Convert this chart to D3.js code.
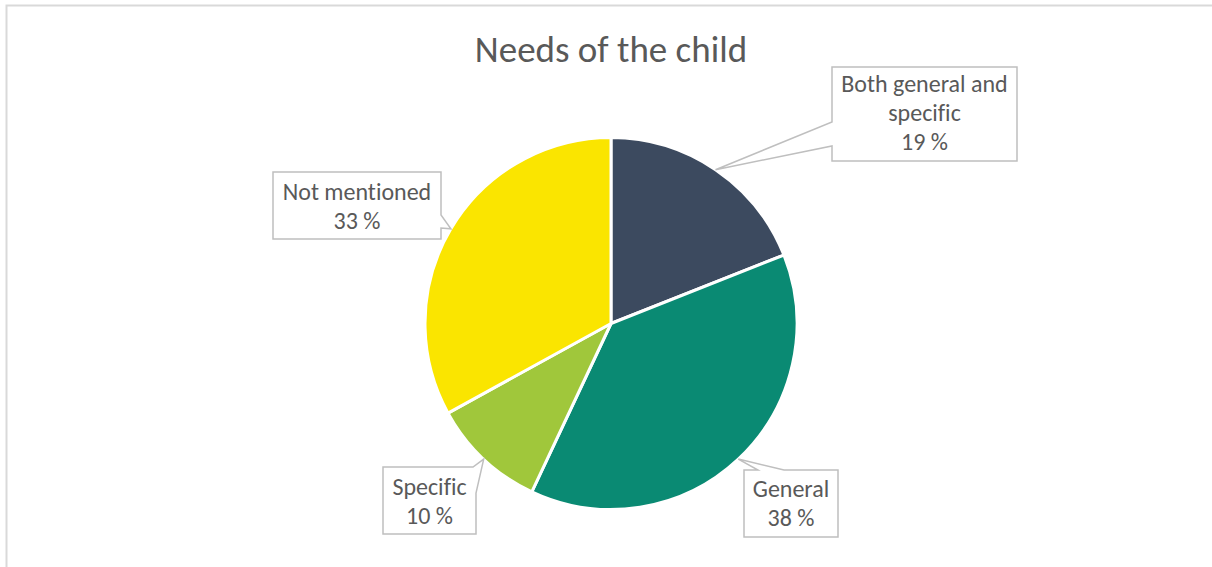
<!DOCTYPE html>
<html>
<head>
<meta charset="utf-8">
<script src="https://cdn.jsdelivr.net/npm/d3@7"></script>
<style>
  html, body { margin: 0; padding: 0; background: #fff; }
  svg { display: block; }
  text { font-family: Carlito, Calibri, Lato, "Open Sans", sans-serif; fill: #595959; font-variant-ligatures: none; }
</style>
</head>
<body>
<svg id="chart" width="1212" height="567"></svg>
<script>
// Share of cases by how the child's needs are described
const title = "Needs of the child";
const categories = ["Both general and specific", "General", "Specific", "Not mentioned"];
const values = [19, 38, 10, 33];
const labelLines = [["Both general and", "specific"], ["General"], ["Specific"], ["Not mentioned"]];
const colors = ["#3c4a5f", "#0a8a73", "#a0c73b", "#fae500"];

// Callout boxes: rectangle plus the wedge base, measured as distance along the
// perimeter clockwise from the top-left corner.
const callouts = [
  { x: 832, y: 67,  w: 185, h: 94, sA: 479, sB: 503 },
  { x: 744, y: 470, w: 94,  h: 67, sA: 14,  sB: 40 },
  { x: 383, y: 467, w: 93,  h: 67, sA: 90,  sB: 119 },
  { x: 273, y: 172, w: 168, h: 67, sA: 211, sB: 224 }
];
const baselines = [[92, 121, 150], [497, 526], [495, 524], [200, 229]];

const svg = d3.select("#chart");
const W = 1212, H = 567;
const cx = 611, cy = 323.5, r = 186;

// frame
svg.append("path")
  .attr("d", `M6.5,${H} V5.5 H${W}`)
  .attr("fill", "none").attr("stroke", "#d9d9d9").attr("stroke-width", 2);

svg.append("text")
  .attr("x", cx).attr("y", 62)
  .attr("text-anchor", "middle")
  .style("font-size", "37px")
  .text(title);

const pie = d3.pie().sort(null).value(d => d)(values);
const arc = d3.arc().innerRadius(0).outerRadius(r);
const rimArc = d3.arc().innerRadius(r).outerRadius(r);

const g = svg.append("g").attr("transform", `translate(${cx},${cy})`);
g.selectAll("path.slice").data(pie).join("path")
  .attr("class", "slice")
  .attr("d", arc)
  .attr("fill", (d, i) => colors[i])
  .attr("stroke", "#fff")
  .attr("stroke-width", 3)
  .attr("stroke-linejoin", "round");

function pointAt(c, s) {
  const { x, y, w, h } = c;
  if (s <= w) return [x + s, y];
  if (s <= w + h) return [x + w, y + (s - w)];
  if (s <= 2 * w + h) return [x + w - (s - w - h), y + h];
  return [x, y + h - (s - 2 * w - h)];
}

function calloutPath(c, tip) {
  const { w, h } = c;
  const corners = [0, w, w + h, 2 * w + h];
  const pts = [];
  corners.forEach(s => { if (s < c.sA || s > c.sB) pts.push({ s, p: pointAt(c, s) }); });
  pts.push({ s: c.sA, p: pointAt(c, c.sA) });
  pts.push({ s: (c.sA + c.sB) / 2, p: tip });
  pts.push({ s: c.sB, p: pointAt(c, c.sB) });
  pts.sort((a, b) => a.s - b.s);
  return "M" + pts.map(d => d.p.map(v => v.toFixed(1)).join(",")).join("L") + "Z";
}

const labels = svg.append("g");
pie.forEach((d, i) => {
  const c = callouts[i];
  const [tx, ty] = rimArc.centroid(d);
  labels.append("path")
    .attr("d", calloutPath(c, [tx + cx, ty + cy]))
    .attr("fill", "#fff")
    .attr("stroke", "#bfbfbf")
    .attr("stroke-width", 1.5);
  const lines = labelLines[i].concat([`${values[i]} %`]);
  const t = labels.append("text")
    .attr("text-anchor", "middle")
    .style("font-size", "24px");
  lines.forEach((ln, k) => {
    t.append("tspan").attr("x", c.x + c.w / 2).attr("y", baselines[i][k]).text(ln);
  });
});
</script>
</body>
</html>
